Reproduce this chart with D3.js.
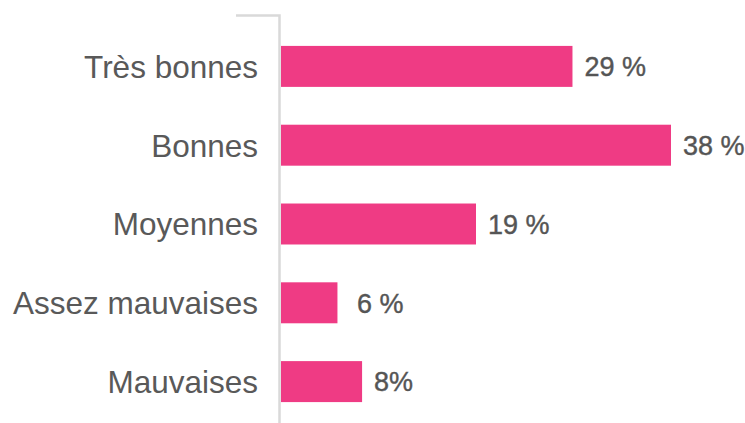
<!DOCTYPE html>
<html>
<head>
<meta charset="utf-8">
<script src="https://cdn.jsdelivr.net/npm/d3@7"></script>
<style>
  body { margin: 0; background: #fff; }
  svg { display: block; }
</style>
</head>
<body>
<svg></svg>
<script>
var categories = ["Très bonnes", "Bonnes", "Moyennes", "Assez mauvaises", "Mauvaises"];
var values = [28.4, 38, 19, 5.5, 7.9];
var valueLabels = ["29 %", "38 %", "19 %", " 6 %", "8%"];

var width = 745, height = 423;
var margins = {top: 27, right: 0, bottom: 2, left: 281};

var svg = d3.select("svg")
  .attr("width", width)
  .attr("height", height);

var x = d3.scaleLinear()
  .domain([0, 38])
  .range([margins.left, 671]);

var y = d3.scaleBand()
  .domain(categories)
  .range([margins.top, height - margins.bottom])
  .paddingInner(0.48)
  .paddingOuter(0.24);

// axis line with the little tick on top
svg.append("path")
  .attr("d", "M236,15.5H279.5V423")
  .attr("fill", "none")
  .attr("stroke", "#d9d9d9")
  .attr("stroke-width", 2.5);

svg.selectAll("rect.bar")
  .data(values)
  .enter()
  .append("rect")
  .attr("class", "bar")
  .attr("x", x(0))
  .attr("y", function(d, i){ return y(categories[i]); })
  .attr("width", function(d){ return x(d) - x(0); })
  .attr("height", y.bandwidth())
  .attr("fill", "#ef3b84");

svg.selectAll("text.cat")
  .data(categories)
  .enter()
  .append("text")
  .attr("class", "cat")
  .attr("x", 258)
  .attr("y", function(d){ return y(d) + y.bandwidth() / 2; })
  .attr("dy", "0.36em")
  .attr("text-anchor", "end")
  .attr("font-family", "Liberation Sans, Arial, sans-serif")
  .attr("font-size", 31.5)
  .attr("fill", "#595959")
  .text(function(d){ return d; });

svg.selectAll("text.val")
  .data(values)
  .enter()
  .append("text")
  .attr("class", "val")
  .attr("x", function(d){ return x(d) + 12; })
  .attr("y", function(d, i){ return y(categories[i]) + y.bandwidth() / 2; })
  .attr("dy", "0.36em")
  .attr("font-family", "Liberation Sans, Arial, sans-serif")
  .attr("font-size", 27)
  .attr("fill", "#555")
  .attr("stroke", "#555")
  .attr("stroke-width", 0.4)
  .style("white-space", "pre")
  .text(function(d, i){ return valueLabels[i]; });
</script>
</body>
</html>
